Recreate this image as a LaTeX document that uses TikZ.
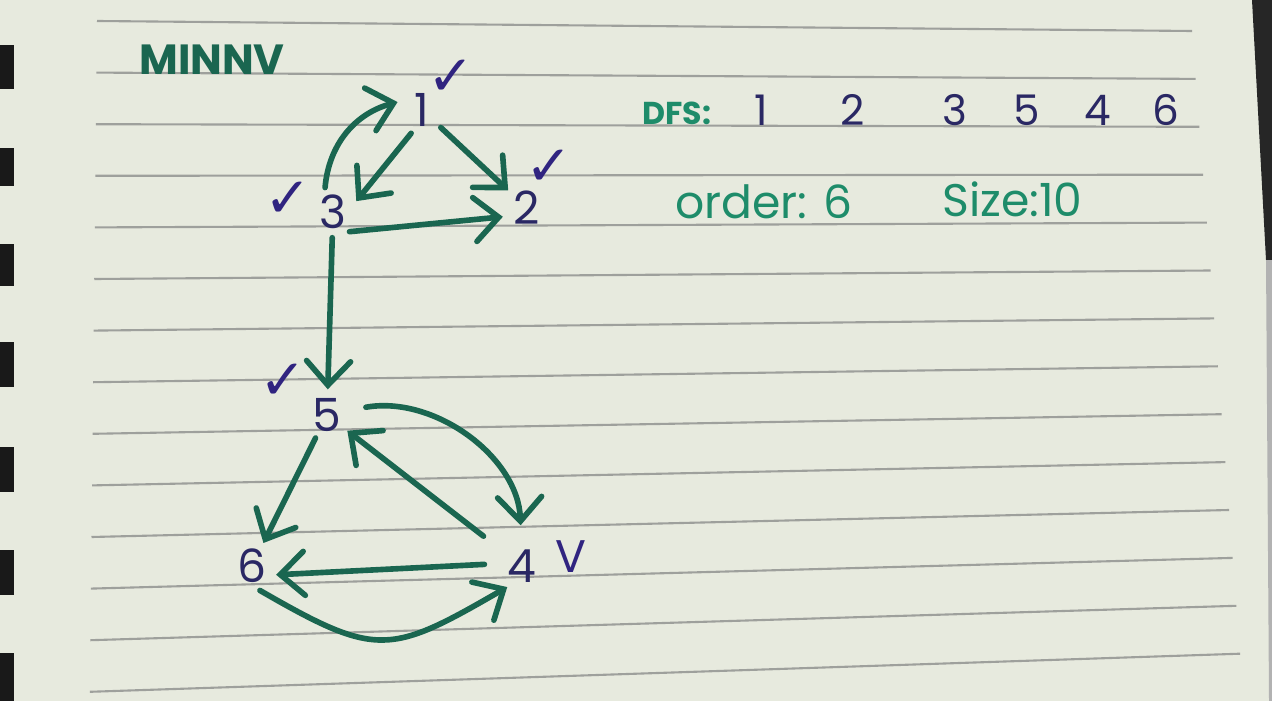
\documentclass[tikz,border=0pt]{standalone}
\usepackage{fontspec}
\setmainfont{Poppins}
\newfontfamily\chk{DejaVu Sans}
\usepackage{tikz}
\usetikzlibrary{arrows.meta, positioning}
\definecolor{paper}{RGB}{231,234,222}
\definecolor{rule}{RGB}{158,160,156}
\definecolor{ink}{RGB}{26,102,80}
\definecolor{pen}{RGB}{30,140,106}
\definecolor{navy}{RGB}{42,40,100}
\definecolor{tick}{RGB}{48,36,128}
\tikzstyle{v}    = [circle, minimum size=5mm, inner sep=0pt, text=navy, font=\fontsize{13}{13}\selectfont]
\tikzstyle{seq}  = [text=navy, font=\fontsize{12}{12}\selectfont, anchor=base]
\tikzstyle{ok}   = [text=tick, font=\chk\bfseries\fontsize{16}{16}\selectfont]
\tikzstyle{txt}  = [text=pen, font=\fontsize{13}{13}\selectfont, anchor=base west]
\tikzstyle{arr}  = [draw=ink, line width=1.6pt, line cap=round, -{Straight Barb[length=2.4mm, width=4.4mm, line cap=round]}]
\tikzstyle{rl}   = [draw=rule, line width=0.6pt]

\begin{document}
\begin{tikzpicture}[x=0.1mm, y=-0.1mm]

% paper
\fill [paper] (0,0) rectangle (1272,701);
\useasboundingbox (0,0) rectangle (1272,701);
\foreach \i in {0,...,13}
  \draw [rl] ({97-0.55*\i},{21+51.6*\i}) -- ({1192+3.7*\i},{31+47.9*\i});
\foreach \a/\b in {45/89, 148/186, 244/286, 342/387, 447/492, 550/595, 653/701}
  \fill [black!90] (0,\a) rectangle (14,\b);
\fill [black!85] (1252,0) -- (1272,0) -- (1272,260) -- (1266,260) -- cycle;
\fill [black!30] (1266,260) -- (1272,260) -- (1272,701) -- (1269,701) -- cycle;

% title and notes
\node [text=ink, font=\bfseries\fontsize{12}{12}\selectfont] at (212,60) (title) {MINNV};
\node [txt, font=\bfseries\fontsize{9}{9}\selectfont, anchor=base] at (677,125) (dfs) {DFS:};
\foreach \n/\x in {1/761, 2/853, 3/955, 5/1027, 4/1098, 6/1166}
  \node [seq] at (\x,126) (d\n) {\n};
\node [txt] at (663,219) (order) {order: 6};
\node [txt] at (930,217) (size)  {Size:10};

% nodes
\node [v] at (422,110) (1) {1};
\node [v] at (527,208) (2) {2};
\node [v] at (333,212) (3) {3};
\node [v] at (327,415) (5) {5};
\node [v] at (252,566) (6) {6};
\node [v] at (522,566) (4) {4};

% ticks
\node [ok] at (451,78)  (c1) {✓};
\node [ok] at (549,168) (c2) {✓};
\node [ok] at (288,200) (c3) {✓};
\node [ok] at (283,382) (c5) {✓};
\node [text=tick, font=\fontsize{13}{13}\selectfont] at (571,557) (c4) {V};

% edges
\path [every edge/.style=arr]
            (3.108)  edge [out=85, in=195]                                 (1.162)
            (1.-115) edge                                                  (3.25)
            (1)      edge                                                  (2)
            (3.-50)  edge                                                  (2.200)
            (3)      edge                                                  (5)
            (5.12)   edge [out=10, in=92, shorten <=1.4mm, shorten >=1.5mm] (4.92)
            (4)      edge [shorten <=2.3mm]                                (5)
            (5)      edge                                                  (6)
            (4.175)  edge [shorten <=1.2mm]                                (6.-20)
            (6.-72)  edge [out=-30, in=210, looseness=1.4]                 (4.-125);

\end{tikzpicture}
\end{document}
